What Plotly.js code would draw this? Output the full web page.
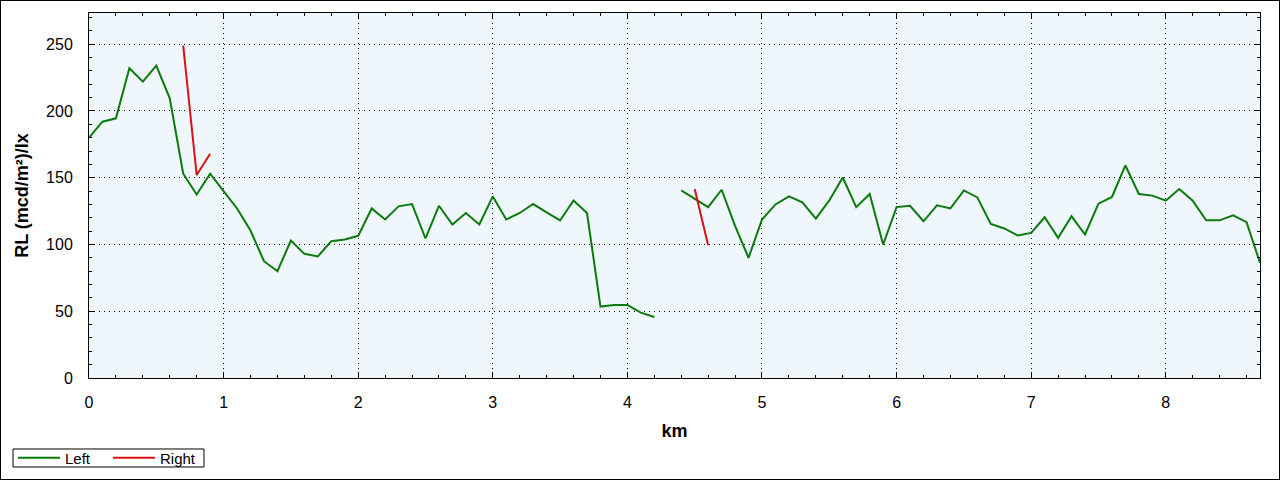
<!DOCTYPE html>
<html>
<head>
<meta charset="utf-8">
<script src="https://cdn.plot.ly/plotly-3.0.1.min.js"></script>
<style>
  html, body { margin: 0; padding: 0; background: #fff; }
  #frame { width: 1278px; height: 478px; border: 1px solid #000; }
</style>
</head>
<body>
<div id="frame"></div>
<script>
// Data
const kmLeft = [0.0,0.1,0.2,0.3,0.4,0.5,0.6,0.7,0.8,0.9,1.0,1.1,1.2,1.3,1.4,1.5,1.6,1.7,1.8,1.9,
  2.0,2.1,2.2,2.3,2.4,2.5,2.6,2.7,2.8,2.9,3.0,3.1,3.2,3.3,3.4,3.5,3.6,3.7,3.8,3.9,
  4.0,4.1,4.2,4.3,4.4,4.5,4.6,4.7,4.8,4.9,5.0,5.1,5.2,5.3,5.4,5.5,5.6,5.7,5.8,5.9,
  6.0,6.1,6.2,6.3,6.4,6.5,6.6,6.7,6.8,6.9,7.0,7.1,7.2,7.3,7.4,7.5,7.6,7.7,7.8,7.9,
  8.0,8.1,8.2,8.3,8.4,8.5,8.6,8.7];
const rlLeft = [180,192,194.5,232,222,234,209.5,153,137.5,153,140,127,110.5,87.5,80,103,93,91,102.5,103.7,
  106.5,127,118.7,128.6,130.3,104.5,129,115,123.6,115,136,118.7,123.6,130.3,124,118,133,123.6,53.5,54.7,
  54.7,49,45.7,null,140.5,134,128,141,114,90,118.7,130,136,131.6,119.4,133,150.2,128,137.8,100,
  128,129,117.4,129.4,127,140.5,135.3,115.4,112,106.7,108.7,120.4,105,121.1,107.5,130.6,135.6,159.2,137.8,136.6,
  132.8,141.5,132.8,118.1,118.1,121.9,116.7,86.3];
const kmRight = [0.7,0.8,0.9,null,4.5,4.6];
const rlRight = [249,152,168,null,141.5,99.5];

const xTitle = 'km';
const yTitle = 'RL (mcd/m²)/lx';
const seriesNames = ['Left', 'Right'];

const FONT = 'Liberation Sans, Arial, sans-serif';
const xRange = [0, 8.7];
const yRange = [0, 273.4];

const traces = [
  { x: kmLeft, y: rlLeft, name: seriesNames[0], type: 'scatter', mode: 'lines',
    line: { color: '#0a7a0a', width: 2 }, connectgaps: false },
  { x: kmRight, y: rlRight, name: seriesNames[1], type: 'scatter', mode: 'lines',
    line: { color: '#dd1111', width: 2 }, connectgaps: false }
];

const layout = {
  width: 1278, height: 478,
  margin: { l: 88, r: 19, t: 12, b: 101, autoexpand: false },
  paper_bgcolor: '#ffffff',
  plot_bgcolor: '#eff7fd',
  font: { family: FONT, size: 16, color: '#000' },
  showlegend: true,
  legend: {
    orientation: 'h', x: -0.0649, xanchor: 'left', y: -0.219, yanchor: 'middle',
    borderwidth: 0, bgcolor: 'rgba(0,0,0,0)',
    font: { family: FONT, size: 15, color: '#000' },
    entrywidth: 38, itemwidth: 42
  },
  shapes: [
    { type: 'rect', xref: 'paper', yref: 'paper', x0: -0.0649, x1: 0.0982, y0: -0.1945, y1: -0.2438,
      line: { color: '#000', width: 1 }, fillcolor: 'rgba(0,0,0,0)', layer: 'below' }
  ],
  xaxis: {
    range: xRange, dtick: 1, tick0: 0,
    showline: true, linecolor: '#000', linewidth: 1, mirror: 'ticks',
    ticks: 'inside', ticklen: 6, tickcolor: '#000', tickwidth: 1,
    minor: { dtick: 0.2, ticks: 'inside', ticklen: 3, tickcolor: '#000', showgrid: false },
    showgrid: true, gridcolor: '#000', gridwidth: 1, griddash: '1px,4px',
    zeroline: false, ticklabelstandoff: 10,
    tickfont: { family: FONT, size: 16, color: '#000' },
    title: { text: xTitle, font: { family: FONT, size: 18, color: '#000', weight: 'bold' }, standoff: 14 }
  },
  yaxis: {
    range: yRange, dtick: 50, tick0: 0,
    showline: true, linecolor: '#000', linewidth: 1, mirror: 'ticks',
    ticks: 'inside', ticklen: 6, tickcolor: '#000', tickwidth: 1,
    minor: { dtick: 10, ticks: 'inside', ticklen: 3, tickcolor: '#000', showgrid: false },
    showgrid: true, gridcolor: '#000', gridwidth: 1, griddash: '1px,4px',
    zeroline: false, ticklabelstandoff: 12,
    tickfont: { family: FONT, size: 16, color: '#000' },
    title: { text: yTitle, font: { family: FONT, size: 18, color: '#000', weight: 'bold' }, standoff: 12 }
  },
  xaxis2: {
    overlaying: 'x', anchor: 'y', side: 'bottom', range: xRange, dtick: 1, tick0: 0,
    ticks: 'outside', ticklen: 6, tickcolor: '#000', tickwidth: 1,
    minor: { dtick: 0.2, ticks: 'outside', ticklen: 3, tickcolor: '#000', showgrid: false },
    showticklabels: false, showgrid: false, showline: false, zeroline: false
  },
  yaxis2: {
    overlaying: 'y', anchor: 'x', side: 'left', range: yRange, dtick: 50, tick0: 0,
    ticks: 'outside', ticklen: 6, tickcolor: '#000', tickwidth: 1,
    minor: { dtick: 10, ticks: 'outside', ticklen: 3, tickcolor: '#000', showgrid: false },
    showticklabels: false, showgrid: false, showline: false, zeroline: false
  }
};

Plotly.newPlot('frame', traces, layout, { displayModeBar: false, staticPlot: true });
</script>
</body>
</html>
